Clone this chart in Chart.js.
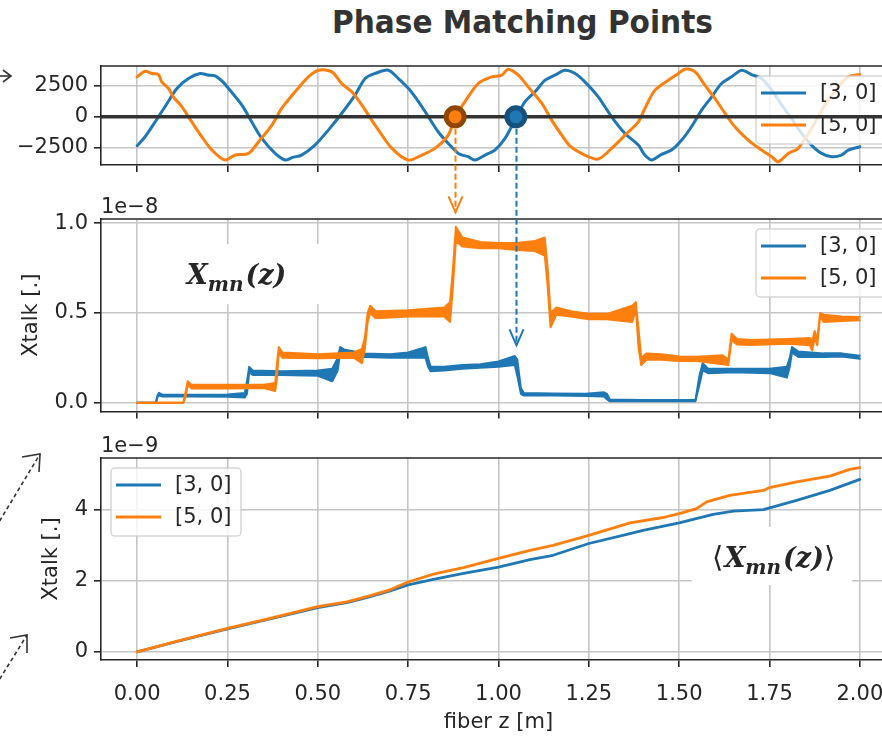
<!DOCTYPE html>
<html>
<head>
<meta charset="utf-8">
<title>Phase Matching Points</title>
<script src="https://cdn.jsdelivr.net/npm/chart.js@4.4.1/dist/chart.umd.min.js"></script>
<style>
  html, body { margin: 0; padding: 0; background: #fff; }
  body { position: relative; width: 882px; height: 738px; overflow: hidden; }
  canvas { position: absolute; left: 0; }
  #title {
    position: absolute; left: 0; top: 0; margin: 0;
    font: bold 32px "DejaVu Sans", sans-serif; line-height: 1;
    color: #333; white-space: nowrap; transform-origin: 0 0;
  }
</style>
</head>
<body>
<h1 id="title">Phase Matching Points</h1>
<canvas id="phase" width="920" height="150" style="top:40px"></canvas>
<canvas id="local" width="920" height="240" style="top:190px"></canvas>
<canvas id="mean" width="920" height="308" style="top:430px"></canvas>
<canvas id="arrows" width="882" height="738" style="top:0"></canvas>
<script>
// ---------- shared fiber axis ----------
const zRange = [-0.1, 2.1];
const zTicks = [0, 0.25, 0.5, 0.75, 1.0, 1.25, 1.5, 1.75, 2.0];
const zTickLabels = ['0.00', '0.25', '0.50', '0.75', '1.00', '1.25', '1.50', '1.75', '2.00'];
const seriesLabels = ['[3, 0]', '[5, 0]'];

// ---------- top panel: phase mismatch term ----------
const phaseZ3 = [0, 0.022, 0.05, 0.077, 0.11, 0.142, 0.174, 0.195, 0.216, 0.235, 0.253, 0.29, 0.317, 0.345, 0.382, 0.41, 0.43, 0.455, 0.492, 0.529, 0.566, 0.603, 0.631, 0.658, 0.695, 0.723, 0.751, 0.779, 0.806, 0.833, 0.861, 0.889, 0.916, 0.935, 0.963, 0.99, 1.018, 1.05, 1.073, 1.101, 1.129, 1.156, 1.184, 1.212, 1.239, 1.276, 1.313, 1.35, 1.387, 1.405, 1.424, 1.451, 1.479, 1.507, 1.534, 1.562, 1.59, 1.617, 1.645, 1.673, 1.7, 1.728, 1.756, 1.784, 1.811, 1.839, 1.866, 1.894, 1.922, 1.949, 1.968, 2.0];
const phase3 = [-2354, -1624, -406, 812, 2300, 3112, 3518, 3400, 3328, 2900, 2300, 947, -406, -1759, -2977, -3518, -3300, -3112, -2300, -1082, 270, 1759, 3112, 3518, 3788, 3112, 2300, 1218, 0, -1218, -2165, -2977, -3247, -3518, -3112, -2706, -1759, 0, 1218, 2030, 2977, 3383, 3788, 3518, 2841, 1624, 0, -1353, -2300, -3112, -3518, -3058, -2706, -1894, -812, 541, 1624, 2706, 3247, 3788, 3437, 3112, 2165, 947, -135, -1353, -2300, -2977, -3247, -3112, -2706, -2435];
const phaseZ5 = [0, 0.022, 0.041, 0.059, 0.068, 0.087, 0.1, 0.124, 0.151, 0.179, 0.207, 0.243, 0.271, 0.308, 0.336, 0.373, 0.4, 0.437, 0.474, 0.502, 0.539, 0.566, 0.594, 0.622, 0.649, 0.668, 0.705, 0.75, 0.788, 0.824, 0.861, 0.88, 0.907, 0.944, 0.981, 1.009, 1.027, 1.055, 1.082, 1.12, 1.147, 1.175, 1.2, 1.239, 1.276, 1.313, 1.35, 1.387, 1.405, 1.433, 1.47, 1.498, 1.516, 1.544, 1.571, 1.599, 1.627, 1.654, 1.691, 1.728, 1.756, 1.774, 1.802, 1.829, 1.866, 1.903, 1.94, 1.968, 2.0];
const phase5 = [3247, 3707, 3518, 3437, 2841, 2300, 1624, 812, -406, -1624, -2706, -3518, -3112, -2977, -2030, -676, 676, 2030, 3247, 3788, 3653, 2706, 2030, 947, -271, -1082, -2571, -3518, -3112, -2571, -1488, 0, 1218, 2706, 3247, 3383, 3870, 3383, 2435, 1082, -270, -1488, -2435, -3112, -3437, -2571, -1488, -406, 676, 2165, 2977, 3518, 3870, 3653, 2571, 1488, 270, -812, -1894, -2706, -3247, -3653, -2977, -2571, -947, 947, 2435, 3247, 3437];
const phaseRange = [-3920, 4130];
const phaseTicks = [-2500, 0, 2500];
const phaseTickLabels = ['\u22122500', '0', '2500'];
const zeroLineZ = [-0.1, 2.1];
const zeroLineV = [0, 0];
// zero crossings marked on the axis: [5, 0] first, then [3, 0]
const matchZ = [0.88, 1.048];
const matchV = [0, 0];
// where the guide arrows stop, in units of the middle panel
const arrowEnds = [1.06, 0.32];

// ---------- middle panel: local crosstalk (x1e-8), envelope of the fast ripple ----------
const xtZ3 = [0, 0.052, 0.056, 0.06, 0.07, 0.15, 0.25, 0.298, 0.304, 0.31, 0.32, 0.4, 0.5, 0.54, 0.555, 0.562, 0.575, 0.63, 0.7, 0.75, 0.798, 0.805, 0.812, 0.85, 0.9, 0.95, 1.0, 1.045, 1.052, 1.062, 1.07, 1.15, 1.24, 1.292, 1.3, 1.308, 1.4, 1.545, 1.556, 1.565, 1.58, 1.65, 1.75, 1.798, 1.806, 1.812, 1.83, 1.9, 1.95, 2.0];
const xtLo3 = [0, 0, 0.03, 0.04, 0.035, 0.035, 0.034, 0.03, 0.05, 0.17, 0.155, 0.155, 0.15, 0.12, 0.18, 0.28, 0.27, 0.255, 0.25, 0.25, 0.25, 0.2, 0.175, 0.18, 0.19, 0.195, 0.2, 0.21, 0.15, 0.05, 0.04, 0.04, 0.038, 0.035, 0.02, 0.008, 0.008, 0.008, 0.1, 0.18, 0.165, 0.17, 0.165, 0.14, 0.2, 0.28, 0.255, 0.255, 0.258, 0.245];
const xtHi3 = [0, 0, 0.04, 0.055, 0.045, 0.045, 0.046, 0.055, 0.12, 0.2, 0.18, 0.175, 0.18, 0.19, 0.25, 0.31, 0.295, 0.275, 0.27, 0.28, 0.31, 0.25, 0.2, 0.2, 0.21, 0.215, 0.23, 0.26, 0.24, 0.08, 0.055, 0.052, 0.05, 0.058, 0.05, 0.018, 0.016, 0.016, 0.15, 0.22, 0.19, 0.19, 0.19, 0.2, 0.25, 0.31, 0.285, 0.275, 0.275, 0.262];
const xtZ5 = [0, 0.128, 0.135, 0.14, 0.15, 0.25, 0.35, 0.382, 0.386, 0.392, 0.402, 0.5, 0.6, 0.622, 0.63, 0.638, 0.645, 0.66, 0.75, 0.85, 0.866, 0.874, 0.882, 0.9, 0.95, 1.0, 1.05, 1.1, 1.128, 1.136, 1.144, 1.16, 1.2, 1.25, 1.3, 1.37, 1.38, 1.388, 1.395, 1.41, 1.45, 1.5, 1.55, 1.62, 1.636, 1.645, 1.66, 1.7, 1.8, 1.862, 1.868, 1.875, 1.882, 1.89, 1.9, 1.95, 2.0];
const xtLo5 = [0, 0, 0.04, 0.1, 0.08, 0.08, 0.082, 0.065, 0.12, 0.28, 0.25, 0.248, 0.25, 0.22, 0.3, 0.45, 0.5, 0.47, 0.48, 0.48, 0.45, 0.65, 0.9, 0.87, 0.86, 0.86, 0.85, 0.845, 0.82, 0.65, 0.42, 0.49, 0.48, 0.465, 0.465, 0.45, 0.52, 0.3, 0.21, 0.24, 0.24, 0.232, 0.232, 0.215, 0.21, 0.35, 0.325, 0.322, 0.328, 0.32, 0.29, 0.36, 0.32, 0.48, 0.45, 0.455, 0.46];
const xtHi5 = [0, 0, 0.07, 0.12, 0.1, 0.1, 0.1, 0.11, 0.2, 0.31, 0.28, 0.27, 0.28, 0.3, 0.36, 0.5, 0.54, 0.51, 0.515, 0.53, 0.56, 0.75, 0.98, 0.92, 0.895, 0.89, 0.89, 0.9, 0.92, 0.75, 0.5, 0.53, 0.51, 0.495, 0.495, 0.54, 0.56, 0.4, 0.25, 0.275, 0.27, 0.258, 0.256, 0.265, 0.24, 0.385, 0.355, 0.35, 0.355, 0.36, 0.34, 0.4, 0.35, 0.5, 0.49, 0.48, 0.478];
const xtRange = [-0.048, 1.023];
const xtTicks = [0, 0.5, 1.0];
const xtTickLabels = ['0.0', '0.5', '1.0'];

// ---------- bottom panel: averaged crosstalk (x1e-9) ----------
const avgZ3 = [0, 0.119, 0.25, 0.359, 0.5, 0.58, 0.635, 0.7, 0.75, 0.82, 0.903, 1.0, 1.087, 1.151, 1.25, 1.364, 1.4, 1.5, 1.594, 1.65, 1.733, 1.825, 1.917, 2.0];
const avg3 = [0, 0.31, 0.64, 0.9, 1.24, 1.38, 1.52, 1.71, 1.88, 2.03, 2.2, 2.38, 2.59, 2.71, 3.04, 3.32, 3.41, 3.62, 3.86, 3.95, 3.99, 4.25, 4.53, 4.84];
const avgZ5 = [0, 0.119, 0.25, 0.359, 0.5, 0.58, 0.635, 0.7, 0.75, 0.82, 0.903, 1.0, 1.087, 1.151, 1.25, 1.364, 1.456, 1.5, 1.548, 1.576, 1.64, 1.733, 1.75, 1.825, 1.917, 1.972, 2.0];
const avg5 = [0, 0.32, 0.66, 0.92, 1.27, 1.4, 1.55, 1.74, 1.96, 2.18, 2.36, 2.62, 2.85, 2.99, 3.27, 3.62, 3.77, 3.88, 4.02, 4.21, 4.39, 4.53, 4.61, 4.77, 4.93, 5.12, 5.17];
const avgRange = [-0.23, 5.44];
const avgTicks = [0, 2, 4];
const avgTickLabels = ['0', '2', '4'];

// ---------- styling ----------
const BLUE = '#1f77b4', ORANGE = '#ff7f0e';
const INK = '#262626', AXIS = '#262626', GRID = '#c6c6c6';
const FONT_PX = 21;
const TEXT_FONT = FONT_PX + 'px "DejaVu Sans", sans-serif';
const MATH = 'italic bold 27px "DejaVu Serif", serif';
const MATH_SUB = 'italic bold 20px "DejaVu Serif", serif';
Chart.defaults.font.family = '"DejaVu Sans", sans-serif';
Chart.defaults.font.size = FONT_PX;
Chart.defaults.color = INK;

const pts = (xs, ys) => xs.map((x, i) => ({ x, y: ys[i] }));

function drawFrame(chart) {
  const { ctx, chartArea: a } = chart;
  ctx.save();
  ctx.strokeStyle = AXIS; ctx.lineWidth = 1.6;
  ctx.beginPath();
  ctx.moveTo(a.left, a.top); ctx.lineTo(a.right, a.top); ctx.lineTo(a.right, a.bottom);
  ctx.stroke();
  ctx.restore();
}

function drawLegend(chart, lg) {
  if (!lg) return;
  const { ctx, chartArea: a } = chart;
  const w = 130, h = 68;
  const x0 = lg.side === 'right' ? a.right - 10 - w : a.left + 10;
  const y0 = a.top + 10;
  ctx.save();
  ctx.beginPath();
  ctx.roundRect(x0, y0, w, h, 4);
  ctx.fillStyle = 'rgba(255,255,255,0.8)'; ctx.fill();
  ctx.strokeStyle = 'rgba(204,204,204,0.8)'; ctx.lineWidth = 1.5; ctx.stroke();
  const items = chart.data.datasets.filter(d => d.label);
  ctx.font = TEXT_FONT;
  ctx.textBaseline = 'middle'; ctx.textAlign = 'left';
  items.forEach((d, i) => {
    const y = y0 + 17 + i * 32;
    ctx.strokeStyle = d.borderColor; ctx.lineWidth = 3;
    ctx.beginPath(); ctx.moveTo(x0 + 5, y); ctx.lineTo(x0 + 50, y); ctx.stroke();
    ctx.fillStyle = INK;
    ctx.fillText(d.label, x0 + 64, y + 1);
  });
  ctx.restore();
}

function drawNote(chart, note) {
  const { ctx } = chart;
  const cx = chart.scales.x.getPixelForValue(note.z);
  const cy = chart.scales.y.getPixelForValue(note.v);
  ctx.save();
  ctx.fillStyle = '#fff';
  ctx.fillRect(cx - note.w / 2, cy - note.h / 2, note.w, note.h);
  let total = 0;
  note.pieces.forEach(p => { ctx.font = p.font; total += ctx.measureText(p.t).width + (p.gap || 0); });
  let x = cx - total / 2 + (note.dx || 0);
  ctx.fillStyle = '#262626'; ctx.textBaseline = 'alphabetic'; ctx.textAlign = 'left';
  note.pieces.forEach(p => {
    ctx.font = p.font;
    ctx.fillText(p.t, x, cy + note.base + (p.dy || 0));
    x += ctx.measureText(p.t).width + (p.gap || 0);
  });
  ctx.restore();
}

const panelDecor = {
  id: 'panelDecor',
  beforeDatasetsDraw(chart, args, o) {
    if (o.note) drawNote(chart, o.note);
  },
  beforeDatasetDraw(chart, args, o) {
    if (o.overlayAt >= 0 && args.index === o.overlayAt) { drawFrame(chart); drawLegend(chart, o.legend); }
  },
  afterDatasetsDraw(chart, args, o) {
    if (!(o.overlayAt >= 0)) { drawFrame(chart); drawLegend(chart, o.legend); }
  },
  afterDraw(chart, args, o) {
    if (!o.offsetText) return;
    const { ctx, chartArea: a } = chart;
    ctx.save();
    ctx.font = TEXT_FONT; ctx.fillStyle = INK;
    ctx.textAlign = 'left'; ctx.textBaseline = 'alphabetic';
    ctx.fillText(o.offsetText, a.left, a.top - 6);
    ctx.restore();
  }
};

function axisX(showLabels, height, withTitle) {
  return {
    type: 'linear', min: zRange[0], max: zRange[1], bounds: 'data',
    afterBuildTicks: s => { s.ticks = zTicks.map(v => ({ value: v })); },
    afterFit: s => { s.height = height; },
    ticks: { display: showLabels, autoSkip: false, maxRotation: 0, padding: 15, color: INK,
             callback: (v, i) => zTickLabels[i] },
    grid: { color: GRID, lineWidth: 1.6, tickLength: 7, tickWidth: 1.6, tickColor: AXIS },
    border: { display: true, color: AXIS, width: 1.6 },
    title: { display: withTitle, text: 'fiber z [m]', color: INK, padding: { top: 0, bottom: 3 } }
  };
}

function axisY(range, ticks, labels, title, titlePad) {
  return {
    type: 'linear', min: range[0], max: range[1], bounds: 'data',
    afterBuildTicks: s => { s.ticks = ticks.map(v => ({ value: v })); },
    afterFit: s => { s.width = 101; },
    ticks: { padding: 6, color: INK, callback: (v, i) => labels[i] },
    grid: { color: GRID, lineWidth: 1.6, tickLength: 7, tickWidth: 1.6, tickColor: AXIS },
    border: { display: true, color: AXIS, width: 1.6 },
    title: { display: !!title, text: title || '', color: INK, padding: { top: titlePad, bottom: 0 } }
  };
}

function panel(id, datasets, opts) {
  return new Chart(document.getElementById(id), {
    type: 'line',
    data: { datasets },
    options: {
      responsive: false, animation: false, events: [],
      layout: { padding: { left: 0, right: 24, top: opts.padTop, bottom: 0 } },
      elements: { line: { tension: 0, borderJoinStyle: 'round', borderCapStyle: 'round' }, point: { radius: 0 } },
      plugins: { legend: { display: false }, tooltip: { enabled: false }, panelDecor: opts.decor },
      scales: { x: opts.x, y: opts.y }
    },
    plugins: [panelDecor]
  });
}

// top: phase term with the zero line and the two phase-matching points
const phaseChart = panel('phase', [
  { label: seriesLabels[0], data: pts(phaseZ3, phase3), borderColor: BLUE, borderWidth: 3, pointRadius: 0, tension: 0.3, order: 3 },
  { label: seriesLabels[1], data: pts(phaseZ5, phase5), borderColor: ORANGE, borderWidth: 3, pointRadius: 0, tension: 0.3, order: 2 },
  { data: pts(zeroLineZ, zeroLineV), borderColor: '#333333', borderWidth: 3.4, pointRadius: 0, order: 1 },
  { data: pts(matchZ, matchV), showLine: false, pointRadius: 9, pointBorderWidth: 5, pointHoverRadius: 9,
    pointBackgroundColor: [ORANGE, BLUE], pointBorderColor: ['#8f4700', '#16507d'], order: 0 }
], {
  padTop: 26,
  x: axisX(false, 25, false),
  y: axisY(phaseRange, phaseTicks, phaseTickLabels, null, 0),
  decor: { overlayAt: 2, legend: { side: 'right' } }
});

// middle: local crosstalk, ripple envelope filled between the upper and lower traces
const localChart = panel('local', [
  { label: seriesLabels[0], data: pts(xtZ3, xtHi3), borderColor: BLUE, borderWidth: 2, fill: false, order: 3 },
  { data: pts(xtZ3, xtLo3), borderColor: BLUE, backgroundColor: BLUE, borderWidth: 2, fill: '-1', order: 3 },
  { label: seriesLabels[1], data: pts(xtZ5, xtHi5), borderColor: ORANGE, borderWidth: 2, fill: false, order: 2 },
  { data: pts(xtZ5, xtLo5), borderColor: ORANGE, backgroundColor: ORANGE, borderWidth: 2, fill: '-1', order: 2 }
], {
  padTop: 29,
  x: axisX(false, 8.3, false),
  y: axisY(xtRange, xtTicks, xtTickLabels, 'Xtalk [.]', 19),
  decor: {
    legend: { side: 'right' }, offsetText: '1e\u22128',
    note: { z: 0.289, v: 0.716, w: 157, h: 60, base: 10, dx: -5,
            pieces: [{ t: 'X', font: MATH }, { t: 'mn', font: MATH_SUB, dy: 7, gap: 2 }, { t: '(z)', font: MATH }] }
  }
});

// bottom: crosstalk averaged over realisations
const meanChart = panel('mean', [
  { label: seriesLabels[0], data: pts(avgZ3, avg3), borderColor: BLUE, borderWidth: 2.8, order: 3 },
  { label: seriesLabels[1], data: pts(avgZ5, avg5), borderColor: ORANGE, borderWidth: 2.8, order: 2 }
], {
  padTop: 28,
  x: axisX(true, 78, true),
  y: axisY(avgRange, avgTicks, avgTickLabels, 'Xtalk [.]', 39),
  decor: {
    legend: { side: 'left' }, offsetText: '1e\u22129',
    note: { z: 1.756, v: 2.69, w: 160, h: 58, base: 11, dx: 2,
            pieces: [{ t: '\u27E8', font: '29px "DejaVu Serif", serif', gap: 1 }, { t: 'X', font: MATH },
                     { t: 'mn', font: MATH_SUB, dy: 7, gap: 2 }, { t: '(z)', font: MATH },
                     { t: '\u27E9', font: '29px "DejaVu Serif", serif' }] }
  }
});

// title, squeezed to its condensed width
(function placeTitle() {
  const t = document.getElementById('title');
  const w = t.getBoundingClientRect().width;
  const target = 381;
  t.style.transform = 'scaleX(' + (target / w) + ')';
  t.style.left = (522.5 - target / 2) + 'px';
  t.style.top = '6px';
})();

// guide arrows from the phase-matching points down to the step they cause
(function drawGuides() {
  const ctx = document.getElementById('arrows').getContext('2d');
  const topOff = 40, midOff = 190;
  const colors = [ORANGE, BLUE];
  matchZ.forEach((z, i) => {
    const x = Math.round(phaseChart.scales.x.getPixelForValue(z)) + 0.5;
    const y0 = topOff + phaseChart.scales.y.getPixelForValue(matchV[i]) + 12;
    const y1 = midOff + localChart.scales.y.getPixelForValue(arrowEnds[i]);
    ctx.save();
    ctx.strokeStyle = colors[i]; ctx.lineWidth = 2;
    ctx.setLineDash([6, 3]);
    ctx.beginPath(); ctx.moveTo(x, y0); ctx.lineTo(x, y1); ctx.stroke();
    ctx.setLineDash([]);
    ctx.beginPath(); ctx.moveTo(x - 7, y1 - 16); ctx.lineTo(x, y1); ctx.lineTo(x + 7, y1 - 16); ctx.stroke();
    ctx.restore();
  });

  // connector arrows entering from the left margin
  ctx.save();
  ctx.strokeStyle = '#333'; ctx.lineWidth = 1.6;
  ctx.beginPath(); ctx.moveTo(-4, 76); ctx.lineTo(11, 76); ctx.stroke();
  ctx.beginPath(); ctx.moveTo(3, 70); ctx.lineTo(11, 76); ctx.lineTo(3, 82); ctx.stroke();
  ctx.setLineDash([4, 3]);
  ctx.beginPath(); ctx.moveTo(-4, 527); ctx.lineTo(40, 454); ctx.stroke();
  ctx.beginPath(); ctx.moveTo(-4, 685); ctx.lineTo(27, 635); ctx.stroke();
  ctx.setLineDash([]);
  ctx.beginPath(); ctx.moveTo(22, 457); ctx.lineTo(40, 454); ctx.lineTo(39, 472); ctx.stroke();
  ctx.beginPath(); ctx.moveTo(10, 638); ctx.lineTo(27, 635); ctx.lineTo(27, 653); ctx.stroke();
  ctx.restore();
})();
</script>
</body>
</html>
